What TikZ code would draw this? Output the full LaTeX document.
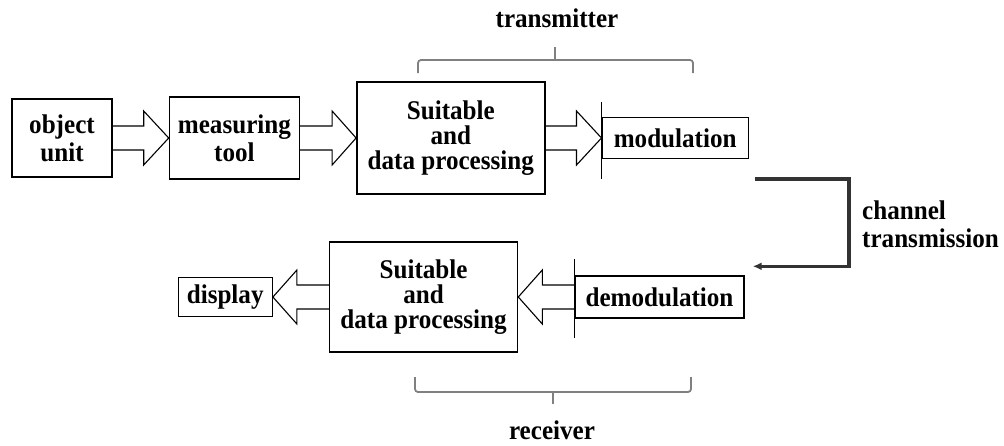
\documentclass[tikz,border=0pt]{standalone}
\usepackage{fontspec}
\setmainfont{Liberation Serif}[FakeStretch=0.93]
\usetikzlibrary{positioning,calc,arrows.meta}
\newcommand{\diagfont}{\fontsize{27}{25}\selectfont\bfseries}
\newcommand{\fatarrow}[3]{%
\draw[fat] let \p1=(#1), \p2=(#2), \p3=($(#2)+(#3,0)$) in
(\x1,\y2+12pt) -- (\x3,\y2+12pt) -- (\x3,\y2+27pt) -- (\x2,\y2)
-- (\x3,\y2-27pt) -- (\x3,\y2-12pt) -- (\x1,\y2-12pt);}
\tikzset{
block/.style={draw=black,line width=1.4pt,rectangle,inner sep=0pt,align=center},
fat/.style={draw=black,line width=1.1pt,line join=miter},
bar/.style={draw=black,line width=1.4pt},
bracket/.style={draw=black!50,line width=1.8pt,rounded corners=3pt},
channel/.style={draw=black!80,line width=3.5pt,-{Latex[length=9pt,width=8pt]}},
}
\tikzstyle{sidetext} = [inner sep=0pt]
\begin{document}
\begin{tikzpicture}[
x=1pt,y=-1pt,
node distance=56pt,
every node/.style={font=\diagfont},
]
\useasboundingbox (0,0) rectangle (1004,445);
\node[block,minimum width=100pt,minimum height=78pt] (obj) at (62,138) {object\\[3pt]unit};
\node[block,minimum width=130pt,minimum height=82pt,right=of obj] (meas) {measuring\\[3pt]tool};
\node[block,minimum width=188pt,minimum height=112pt,right=of meas] (proc) {Suitable\\and\\data processing};
\node[block,minimum width=146pt,minimum height=41pt,right=of proc] (mod) {modulation};
\node[block,minimum width=169pt,minimum height=42pt] (demod) at (659.5,297) {demodulation};
\node[block,minimum width=188pt,minimum height=110pt,left=of demod] (rproc) {Suitable\\and\\data processing};
\node[block,minimum width=94pt,minimum height=39pt,left=of rproc] (disp) {display};
\fatarrow{obj.east}{meas.west}{-25}
\fatarrow{meas.east}{proc.west}{-24}
\fatarrow{proc.east}{mod.west}{-25}
\fatarrow{demod.west}{rproc.east}{24}
\fatarrow{rproc.west}{disp.east}{24}
\draw[bar] ([yshift=36pt]mod.west) -- ([yshift=-41pt]mod.west);
\draw[bar] ([yshift=38pt]demod.west) -- ([yshift=-41pt]demod.west);
\coordinate (chin) at ([shift={(6,20)}]mod.south east);
\coordinate (chout) at ([shift={(8,-9)}]demod.north east);
\draw[channel] (chin) -- ++(94,0) |- (chout);
\node[sidetext,anchor=west,align=left] (chtext) at (862,224) {channel\\[3pt]transmission};
\node[sidetext] (tx) at (557,18) {transmitter};
\draw[bracket] (418,73) -- (418,60) -- (693,60) -- (693,73);
\draw[bracket] (555,60) -- (555,47);
\node[sidetext] (rx) at (552,430) {receiver};
\draw[bracket] (415,377) -- (415,392) -- (691,392) -- (691,377);
\draw[bracket] (553,392) -- (553,404);
\end{tikzpicture}
\end{document}
